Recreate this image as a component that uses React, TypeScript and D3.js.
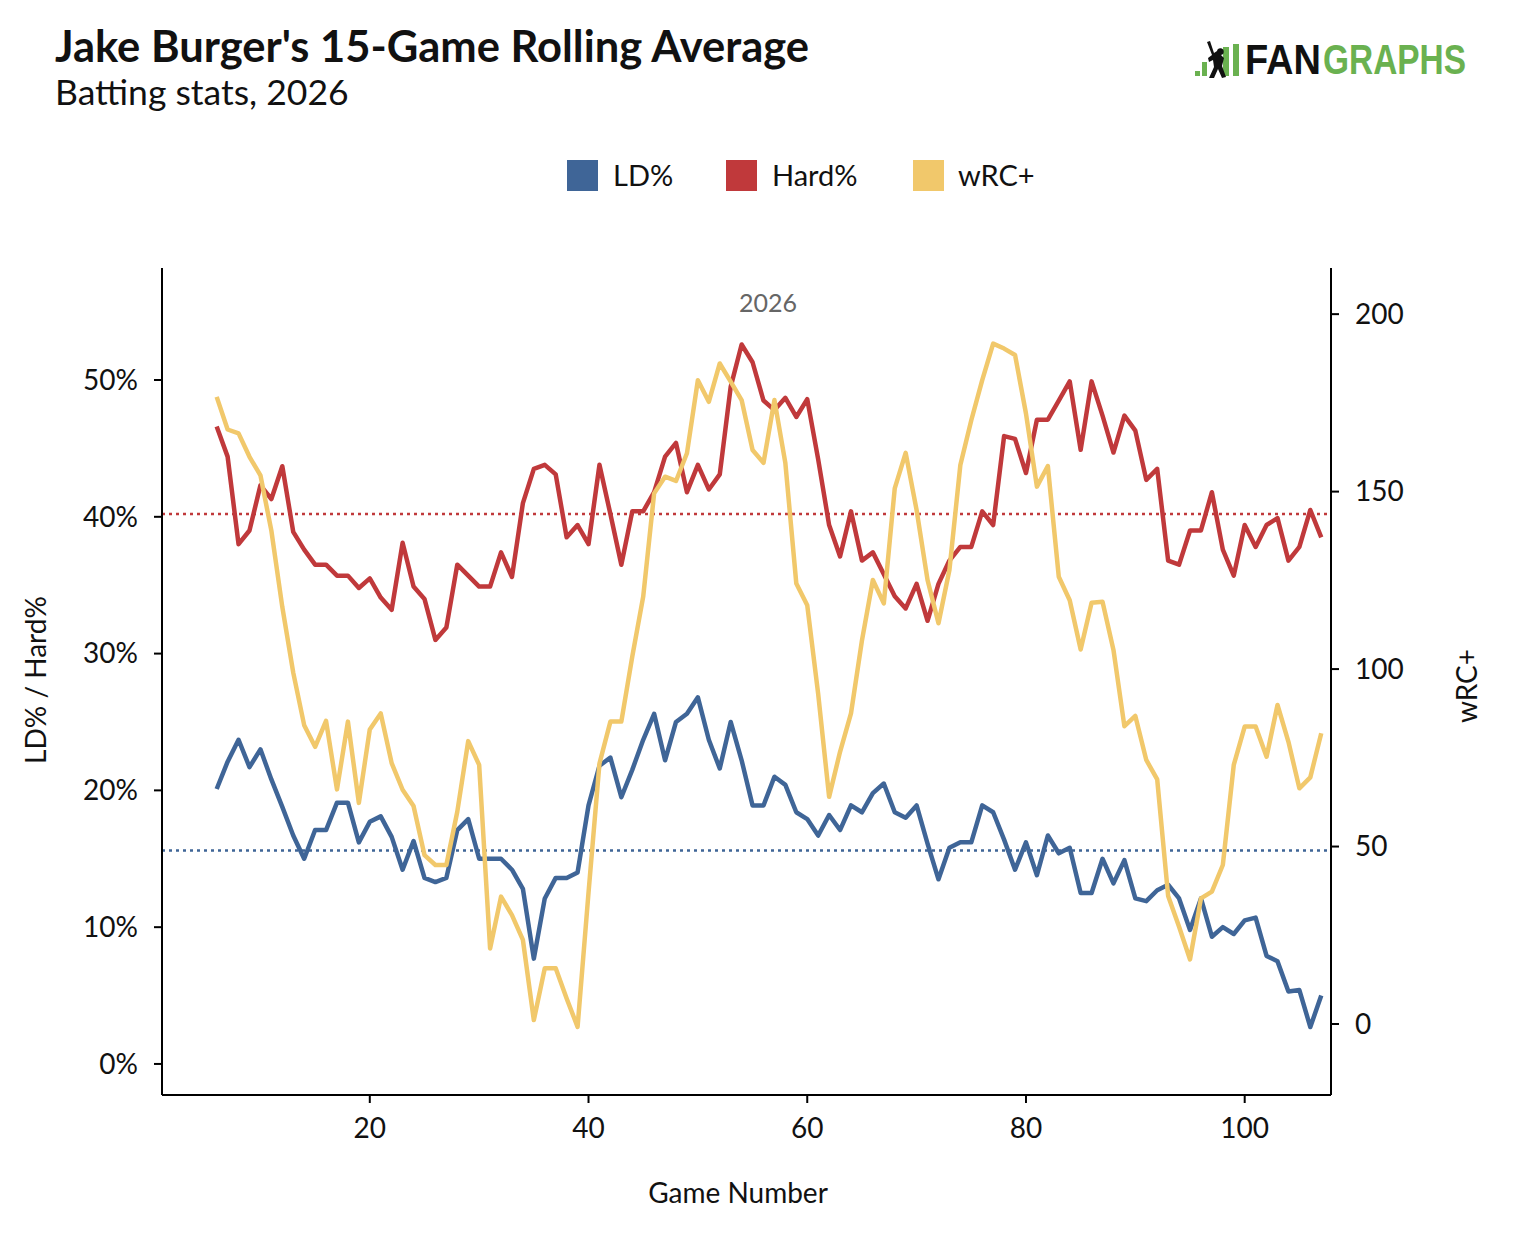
import React from 'react';
import * as d3 from 'd3';

// ---- Data ----
const firstGame = 6;
const ldPct = [
  20.1, 22.1, 23.7, 21.7, 23.0, 20.8, 18.8, 16.7, 15.0, 17.1,
  17.1, 19.1, 19.1, 16.2, 17.7, 18.1, 16.6, 14.2, 16.3, 13.6,
  13.3, 13.6, 17.1, 17.9, 15.0, 15.0, 15.0, 14.2, 12.8, 7.7,
  12.1, 13.6, 13.6, 14.0, 18.9, 21.8, 22.4, 19.5, 21.5, 23.7,
  25.6, 22.2, 25.0, 25.6, 26.8, 23.7, 21.6, 25.0, 22.2, 18.9,
  18.9, 21.0, 20.4, 18.4, 17.9, 16.7, 18.2, 17.1, 18.9, 18.4,
  19.8, 20.5, 18.4, 18.0, 18.9, 16.1, 13.5, 15.8, 16.2, 16.2,
  18.9, 18.4, 16.4, 14.2, 16.2, 13.8, 16.7, 15.4, 15.8, 12.5,
  12.5, 15.0, 13.2, 14.9, 12.1, 11.9, 12.7, 13.1, 12.1, 9.8,
  12.1, 9.3, 10.0, 9.5, 10.5, 10.7, 7.9, 7.5, 5.3, 5.4,
  2.7, 5.0,
];
const hardPct = [
  46.6, 44.4, 38.0, 39.0, 42.3, 41.3, 43.7, 38.9, 37.6, 36.5,
  36.5, 35.7, 35.7, 34.8, 35.5, 34.1, 33.2, 38.1, 34.9, 34.0,
  31.0, 31.9, 36.5, 35.7, 34.9, 34.9, 37.4, 35.6, 41.0, 43.5,
  43.8, 43.1, 38.5, 39.4, 38.0, 43.8, 40.2, 36.5, 40.4, 40.4,
  41.8, 44.4, 45.4, 41.8, 43.8, 42.0, 43.1, 49.5, 52.6, 51.3,
  48.5, 47.8, 48.7, 47.3, 48.6, 44.2, 39.4, 37.1, 40.4, 36.8,
  37.4, 35.8, 34.2, 33.3, 35.1, 32.4, 35.1, 36.8, 37.8, 37.8,
  40.4, 39.4, 45.9, 45.7, 43.2, 47.1, 47.1, 48.5, 49.9, 44.9,
  49.9, 47.4, 44.7, 47.4, 46.3, 42.7, 43.5, 36.8, 36.5, 39.0,
  39.0, 41.8, 37.6, 35.7, 39.4, 37.8, 39.4, 39.9, 36.8, 37.8,
  40.5, 38.5,
];
const wrcPlus = [
  176.7, 167.5, 166.4, 159.8, 154.6, 139, 117.5, 99, 84.2, 78.1,
  85.4, 66.1, 85.2, 62.3, 83, 87.5, 73.5, 66, 61.4, 47.6,
  44.8, 44.8, 59.8, 79.7, 73, 21.3, 35.9, 30.7, 23.7, 1.1,
  15.7, 15.7, 7.2, -0.8, 37, 73.4, 85.2, 85.2, 103.5, 120.4,
  149.5, 154.2, 153, 160.8, 181.4, 175.3, 186.1, 181, 175.8, 161.7,
  158.1, 175.8, 158, 124.1, 118, 93, 64, 76.7, 87.5, 108,
  125.1, 118.5, 150.9, 160.9, 144.8, 125.1, 112.9, 127.9, 157.5, 170.1,
  181.4, 191.7, 190.3, 188.5, 172, 151.4, 157.2, 126, 119.4, 105.5,
  118.7, 119, 105.4, 83.9, 86.8, 74.4, 68.9, 36.1, 27.4, 18.2,
  35.4, 37.3, 44.8, 73, 83.8, 83.8, 75.3, 89.9, 79.5, 66.4,
  69.5, 81.9,
];
const ldAvg = 15.6;
const hardAvg = 40.2;
const leftTicks = [0, 10, 20, 30, 40, 50];
const rightTicks = [0, 50, 100, 150, 200];
const xTicks = [20, 40, 60, 80, 100];
const seriesNames = ['LD%', 'Hard%', 'wRC+'];

const BLUE = '#3f6597';
const RED = '#c0393b';
const YELLOW = '#f1c86b';
const GREEN = '#6ab150';
const FONT = 'Lato, sans-serif';

export default function App() {
  const left = 162, right = 1330, top = 268, bottom = 1095;
  const x = d3.scaleLinear().domain([1, 107.8]).range([left, right]);
  const yL = d3.scaleLinear().domain([-2.27, 58.19]).range([bottom, top]);
  const yR = d3.scaleLinear().domain([-20, 213]).range([bottom, top]);

  const lineL = d3.line<number>().x((_, i) => x(firstGame + i)).y((d) => yL(d));
  const lineR = d3.line<number>().x((_, i) => x(firstGame + i)).y((d) => yR(d));

  const legendItems = [
    { name: seriesNames[0], color: BLUE, rx: 567, tx: 613 },
    { name: seriesNames[1], color: RED, rx: 726, tx: 772 },
    { name: seriesNames[2], color: YELLOW, rx: 913, tx: 958 },
  ];

  return (
    <svg
      width={1526}
      height={1260}
      style={{ position: 'absolute', left: 0, top: 0, display: 'block', background: '#fff' }}
      fontFamily={FONT}
    >
      <rect x={0} y={0} width={1526} height={1260} fill="#fff" />
      {/* Title */}
      <text x={55} y={62} fontSize={43.5} fontWeight={700} fill="#111">
        Jake Burger's 15-Game Rolling Average
      </text>
      <text x={55} y={105} fontSize={35.5} fill="#111">
        Batting stats, 2026
      </text>

      {/* Logo */}
      <g>
        <rect x={1195} y={71} width={5} height={5} fill={GREEN} />
        <rect x={1202} y={62} width={5} height={14} fill={GREEN} />
        <rect x={1223} y={47} width={6} height={29} fill={GREEN} />
        <rect x={1233} y={44} width={6} height={32} fill={GREEN} />
        <path
          d="M1207 42 L1210 41 L1214 53 L1217 51 A3.4 3.4 0 1 1 1221 55 L1224 58 L1222 66 L1226 77 L1222 78 L1218 69 L1214 78 L1209 78 L1214 67 L1213 60 L1209 62 L1208 58 L1212 55 Z"
          fill="#111"
        />
        <text x={1245} y={74} fontFamily="'Liberation Sans', Arial, sans-serif" fontWeight={700} fontSize={42} fill="#111" textLength={76} lengthAdjust="spacingAndGlyphs">
          FAN
        </text>
        <text x={1323} y={74} fontFamily="'Liberation Sans', Arial, sans-serif" fontWeight={700} fontSize={42} fill={GREEN} textLength={143} lengthAdjust="spacingAndGlyphs">
          GRAPHS
        </text>
      </g>

      {/* Legend */}
      {legendItems.map((l) => (
        <g key={l.name}>
          <rect x={l.rx} y={160} width={31} height={31} fill={l.color} />
          <text x={l.tx} y={186} fontSize={29} fill="#111">
            {l.name}
          </text>
        </g>
      ))}

      {/* Annotation */}
      <text x={768} y={312} fontSize={25} fill="#666" textAnchor="middle">
        2026
      </text>

      {/* Average reference lines */}
      <line x1={left} x2={right} y1={yL(hardAvg)} y2={yL(hardAvg)} stroke={RED} strokeWidth={2.5} strokeDasharray="3 4" />
      <line x1={left} x2={right} y1={yL(ldAvg)} y2={yL(ldAvg)} stroke={BLUE} strokeWidth={2.5} strokeDasharray="3 4" />

      {/* Series */}
      <path d={lineL(ldPct) ?? ''} fill="none" stroke={BLUE} strokeWidth={4.5} strokeLinejoin="round" />
      <path d={lineL(hardPct) ?? ''} fill="none" stroke={RED} strokeWidth={4.5} strokeLinejoin="round" />
      <path d={lineR(wrcPlus) ?? ''} fill="none" stroke={YELLOW} strokeWidth={4.5} strokeLinejoin="round" />

      {/* Axes */}
      <line x1={left} x2={left} y1={top} y2={bottom} stroke="#000" strokeWidth={2} />
      <line x1={right + 1} x2={right + 1} y1={top} y2={bottom} stroke="#000" strokeWidth={2} />
      <line x1={left} x2={right + 1} y1={bottom} y2={bottom} stroke="#000" strokeWidth={2} />

      {leftTicks.map((t) => (
        <g key={'l' + t}>
          <line x1={left - 8} x2={left} y1={yL(t)} y2={yL(t)} stroke="#000" strokeWidth={2} />
          <text x={138} y={yL(t)} dy="0.35em" fontSize={28} textAnchor="end" fill="#111">
            {t}%
          </text>
        </g>
      ))}
      {rightTicks.map((t) => (
        <g key={'r' + t}>
          <line x1={right + 1} x2={right + 9} y1={yR(t)} y2={yR(t)} stroke="#000" strokeWidth={2} />
          <text x={1355} y={yR(t)} dy="0.35em" fontSize={28} textAnchor="start" fill="#111">
            {t}
          </text>
        </g>
      ))}
      {xTicks.map((t) => (
        <g key={'x' + t}>
          <line x1={x(t)} x2={x(t)} y1={bottom} y2={bottom + 8} stroke="#000" strokeWidth={2} />
          <text x={x(t)} y={1138} fontSize={28} textAnchor="middle" fill="#111">
            {t}
          </text>
        </g>
      ))}

      {/* Axis titles */}
      <text x={738} y={1203} fontSize={28} textAnchor="middle" fill="#111">
        Game Number
      </text>
      <text transform="translate(46,680) rotate(-90)" fontSize={28} textAnchor="middle" fill="#111">
        LD% / Hard%
      </text>
      <text transform="translate(1477,686) rotate(-90)" fontSize={28} textAnchor="middle" fill="#111">
        wRC+
      </text>
    </svg>
  );
}
